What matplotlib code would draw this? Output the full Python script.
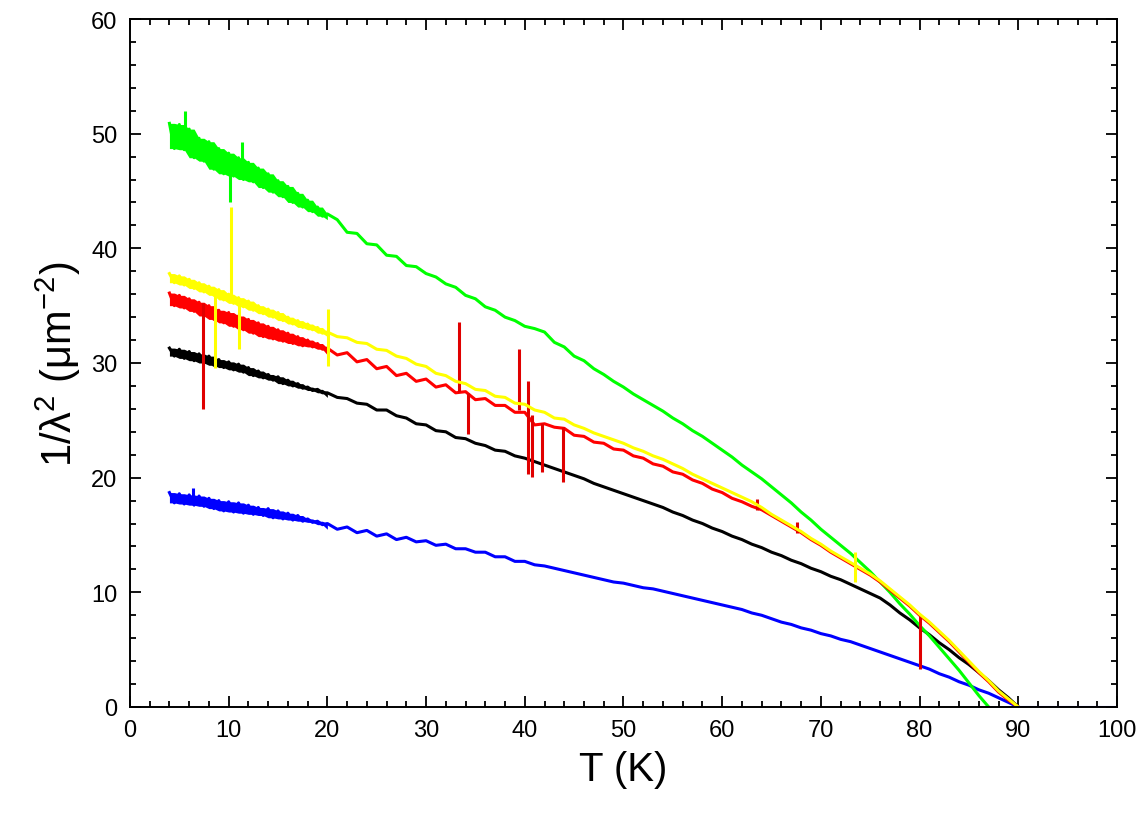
import numpy as np
import pandas as pd
import matplotlib
matplotlib.use("Agg")
import matplotlib.pyplot as plt
from matplotlib.ticker import MultipleLocator

plt.rcParams['font.family'] = ['Liberation Sans', 'DejaVu Sans']
plt.rcParams['mathtext.fontset'] = 'custom'
plt.rcParams['mathtext.rm'] = 'Liberation Sans'
plt.rcParams['mathtext.it'] = 'Liberation Sans'

# temperature grid (K): 0.5 K steps up to 20 K, then 1 K steps
T = np.r_[np.arange(4, 20.01, 0.5), np.arange(21, 91, 1)]

green = [50.9, 48.7, 50.8, 48.6, 50.4, 47.9, 49.6, 47.6, 49.3, 46.9, 48.7, 46.5, 48.3, 46.3, 47.9, 46.0,
         47.5, 45.8, 47.0, 45.3, 46.5, 44.9, 45.9, 44.5, 45.4, 44.0, 44.8, 43.6, 44.2, 43.2, 43.6, 42.8, 43.0,
         42.5, 41.4, 41.3, 40.4, 40.3, 39.4, 39.3, 38.5, 38.4, 37.8, 37.5, 36.9, 36.6, 35.9, 35.6, 34.9,
         34.6, 34.0, 33.7, 33.2, 33.0, 32.7, 31.8, 31.4, 30.6, 30.2, 29.5, 29.0, 28.4, 27.9, 27.3, 26.8,
         26.3, 25.8, 25.2, 24.7, 24.1, 23.6, 23.0, 22.4, 21.8, 21.1, 20.5, 19.9, 19.2, 18.5, 17.8, 17.0,
         16.3, 15.5, 14.8, 14.1, 13.4, 12.6, 11.8, 10.9, 10.0, 9.0, 8.1, 7.1, 6.2, 5.2, 4.2, 3.2, 2.1,
         1.0, 0.0, np.nan, np.nan, np.nan]

yellow = [37.8, 37.0, 37.6, 36.8, 37.3, 36.5, 37.0, 36.2, 36.7, 35.9, 36.4, 35.5, 36.0, 35.2, 35.7, 34.9,
          35.4, 34.6, 35.0, 34.3, 34.7, 34.0, 34.4, 33.7, 34.0, 33.4, 33.7, 33.1, 33.4, 32.9, 33.1, 32.6, 32.7,
          32.3, 32.2, 31.8, 31.7, 31.2, 31.1, 30.6, 30.4, 29.9, 29.7, 29.1, 28.9, 28.4, 28.2, 27.7, 27.6,
          27.1, 27.0, 26.5, 26.4, 25.9, 25.7, 25.2, 25.1, 24.6, 24.3, 23.9, 23.6, 23.3, 23.0, 22.6, 22.3,
          21.9, 21.6, 21.2, 20.8, 20.3, 19.9, 19.5, 19.1, 18.7, 18.3, 17.9, 17.4, 16.8, 16.3, 15.8, 15.3,
          14.7, 14.2, 13.6, 13.1, 12.6, 12.1, 11.6, 11.0, 10.3, 9.6, 8.9, 8.1, 7.4, 6.6, 5.8, 4.9, 4.0,
          3.1, 2.3, 1.4, 0.7, 0.0]

red = [36.1, 35.0, 35.9, 34.8, 35.6, 34.5, 35.3, 34.1, 35.0, 33.8, 34.6, 33.5, 34.4, 33.2, 34.1, 32.9,
       33.8, 32.6, 33.5, 32.3, 33.2, 32.1, 32.9, 31.9, 32.6, 31.7, 32.3, 31.5, 32.0, 31.4, 31.7, 31.2, 31.3,
       30.7, 30.9, 30.1, 30.3, 29.5, 29.7, 28.9, 29.1, 28.4, 28.6, 27.9, 28.1, 27.4, 27.5, 26.8, 26.9,
       26.3, 26.3, 25.7, 25.7, 24.6, 24.7, 24.4, 24.3, 23.7, 23.6, 23.1, 23.0, 22.5, 22.4, 21.9, 21.7,
       21.2, 21.0, 20.5, 20.3, 19.8, 19.5, 19.0, 18.7, 18.2, 17.9, 17.5, 17.2, 16.7, 16.2, 15.7, 15.2,
       14.6, 14.1, 13.5, 13.0, 12.5, 12.0, 11.5, 10.9, 10.2, 9.5, 8.8, 8.0, 7.3, 6.5, 5.7, 4.8, 3.9,
       3.0, 2.2, 1.3, 0.6, 0.0]

black = [31.3, 30.6, 31.2, 30.4, 31.0, 30.2, 30.8, 30.0, 30.6, 29.8, 30.3, 29.6, 30.1, 29.4, 29.9, 29.2,
         29.6, 28.9, 29.3, 28.7, 29.0, 28.5, 28.8, 28.2, 28.5, 28.0, 28.2, 27.8, 27.9, 27.6, 27.7, 27.4, 27.4,
         27.0, 26.9, 26.5, 26.4, 25.9, 25.9, 25.4, 25.2, 24.7, 24.6, 24.1, 24.0, 23.5, 23.4, 23.0, 22.8,
         22.4, 22.3, 21.9, 21.7, 21.4, 21.1, 20.8, 20.5, 20.2, 19.9, 19.5, 19.2, 18.9, 18.6, 18.3, 18.0,
         17.7, 17.4, 17.0, 16.7, 16.3, 16.0, 15.6, 15.3, 14.9, 14.6, 14.2, 13.9, 13.5, 13.2, 12.8, 12.5,
         12.1, 11.8, 11.4, 11.1, 10.7, 10.3, 9.9, 9.5, 8.9, 8.2, 7.6, 6.9, 6.3, 5.6, 5.0, 4.3, 3.7,
         3.0, 2.3, 1.5, 0.8, 0.0]

blue = [18.7, 17.8, 18.6, 17.7, 18.5, 17.6, 18.4, 17.5, 18.2, 17.3, 18.0, 17.1, 17.9, 17.0, 17.8, 16.9,
        17.6, 16.8, 17.4, 16.7, 17.3, 16.5, 17.1, 16.4, 16.9, 16.3, 16.7, 16.2, 16.4, 16.1, 16.2, 15.9, 16.0,
        15.5, 15.7, 15.2, 15.4, 14.9, 15.1, 14.6, 14.8, 14.4, 14.5, 14.1, 14.2, 13.8, 13.8, 13.5, 13.5,
        13.1, 13.1, 12.7, 12.7, 12.4, 12.3, 12.1, 11.9, 11.7, 11.5, 11.3, 11.1, 10.9, 10.8, 10.6, 10.4,
        10.3, 10.1, 9.9, 9.7, 9.5, 9.3, 9.1, 8.9, 8.7, 8.5, 8.2, 8.0, 7.7, 7.4, 7.2, 6.9, 6.7, 6.4,
        6.2, 5.9, 5.7, 5.4, 5.1, 4.8, 4.5, 4.2, 3.9, 3.6, 3.3, 2.9, 2.6, 2.2, 1.9, 1.5, 1.2, 0.8,
        0.4, 0.0]
blue_tail_T = [90, 100]
blue_tail = [0.0, 0.0]

# glitches in the raw data: (T, low, high)
green_spk_T = [5.6, 10.1, 11.4]
green_spk_lo = [49.5, 44.0, 47.0]
green_spk_hi = [52.0, 47.8, 49.3]

yellow_spk_T = [8.6, 10.2, 11.0, 20.1, 73.5]
yellow_spk_lo = [29.6, 35.5, 31.2, 29.7, 10.9]
yellow_spk_hi = [36.2, 43.6, 35.4, 34.7, 13.5]

red_spk_T = [7.4, 33.3, 34.2, 39.4, 40.3, 40.7, 41.7, 43.9, 63.5, 67.6, 80.0]
red_spk_lo = [26.0, 27.5, 23.8, 25.9, 20.3, 20.1, 20.5, 19.6, 17.2, 15.2, 3.3]
red_spk_hi = [35.2, 33.6, 27.4, 31.2, 28.4, 25.5, 24.8, 24.4, 18.1, 16.1, 7.9]

blue_spk_T = [6.4]
blue_spk_lo = [17.8]
blue_spk_hi = [19.1]

fig = plt.figure(figsize=(11.48, 8.2), dpi=100)
ax = fig.add_axes([0.1132, 0.1366, 0.8598, 0.839])

lw = 2.2
noisy = T <= 20


def draw(y, c, spk=None):
    # noise band of the low temperature part, from the scatter of the samples themselves
    s = pd.Series(y)
    lo = s.rolling(3, center=True, min_periods=1).min().to_numpy()
    hi = s.rolling(3, center=True, min_periods=1).max().to_numpy()
    ax.fill_between(T[noisy], lo[noisy], hi[noisy], color=c, lw=0)
    ax.plot(T, y, '-', c=c, lw=lw)
    if spk is not None:
        ax.vlines(spk[0], spk[1], spk[2], colors=c, lw=lw)


draw(black, 'black')
draw(blue, '#0000ff', (blue_spk_T, blue_spk_lo, blue_spk_hi))
ax.plot(blue_tail_T, blue_tail, '-', c='#0000ff', lw=lw)
draw(green, '#00ff00', (green_spk_T, green_spk_lo, green_spk_hi))
draw(red, '#ff0000')
ax.vlines(red_spk_T, red_spk_lo, red_spk_hi, colors='#e00000', lw=lw)
draw(yellow, '#ffff00', (yellow_spk_T, yellow_spk_lo, yellow_spk_hi))

ax.set_xlim(0, 100)
ax.set_ylim(0, 60)
ax.xaxis.set_major_locator(MultipleLocator(10))
ax.xaxis.set_minor_locator(MultipleLocator(2))
ax.yaxis.set_major_locator(MultipleLocator(10))
ax.yaxis.set_minor_locator(MultipleLocator(2))
ax.tick_params(which='both', direction='in', top=True, right=True, width=1.3)
ax.tick_params(which='major', length=8, labelsize=17, pad=9)
ax.tick_params(which='minor', length=4)
for s in ax.spines.values():
    s.set_linewidth(1.4)

ax.set_xlabel('T (K)', fontsize=29, labelpad=6)
ax.set_ylabel('1/λ$^2$ (μm$^{-2}$)', fontsize=30, labelpad=6)

fig.savefig('out.png', dpi=100)
